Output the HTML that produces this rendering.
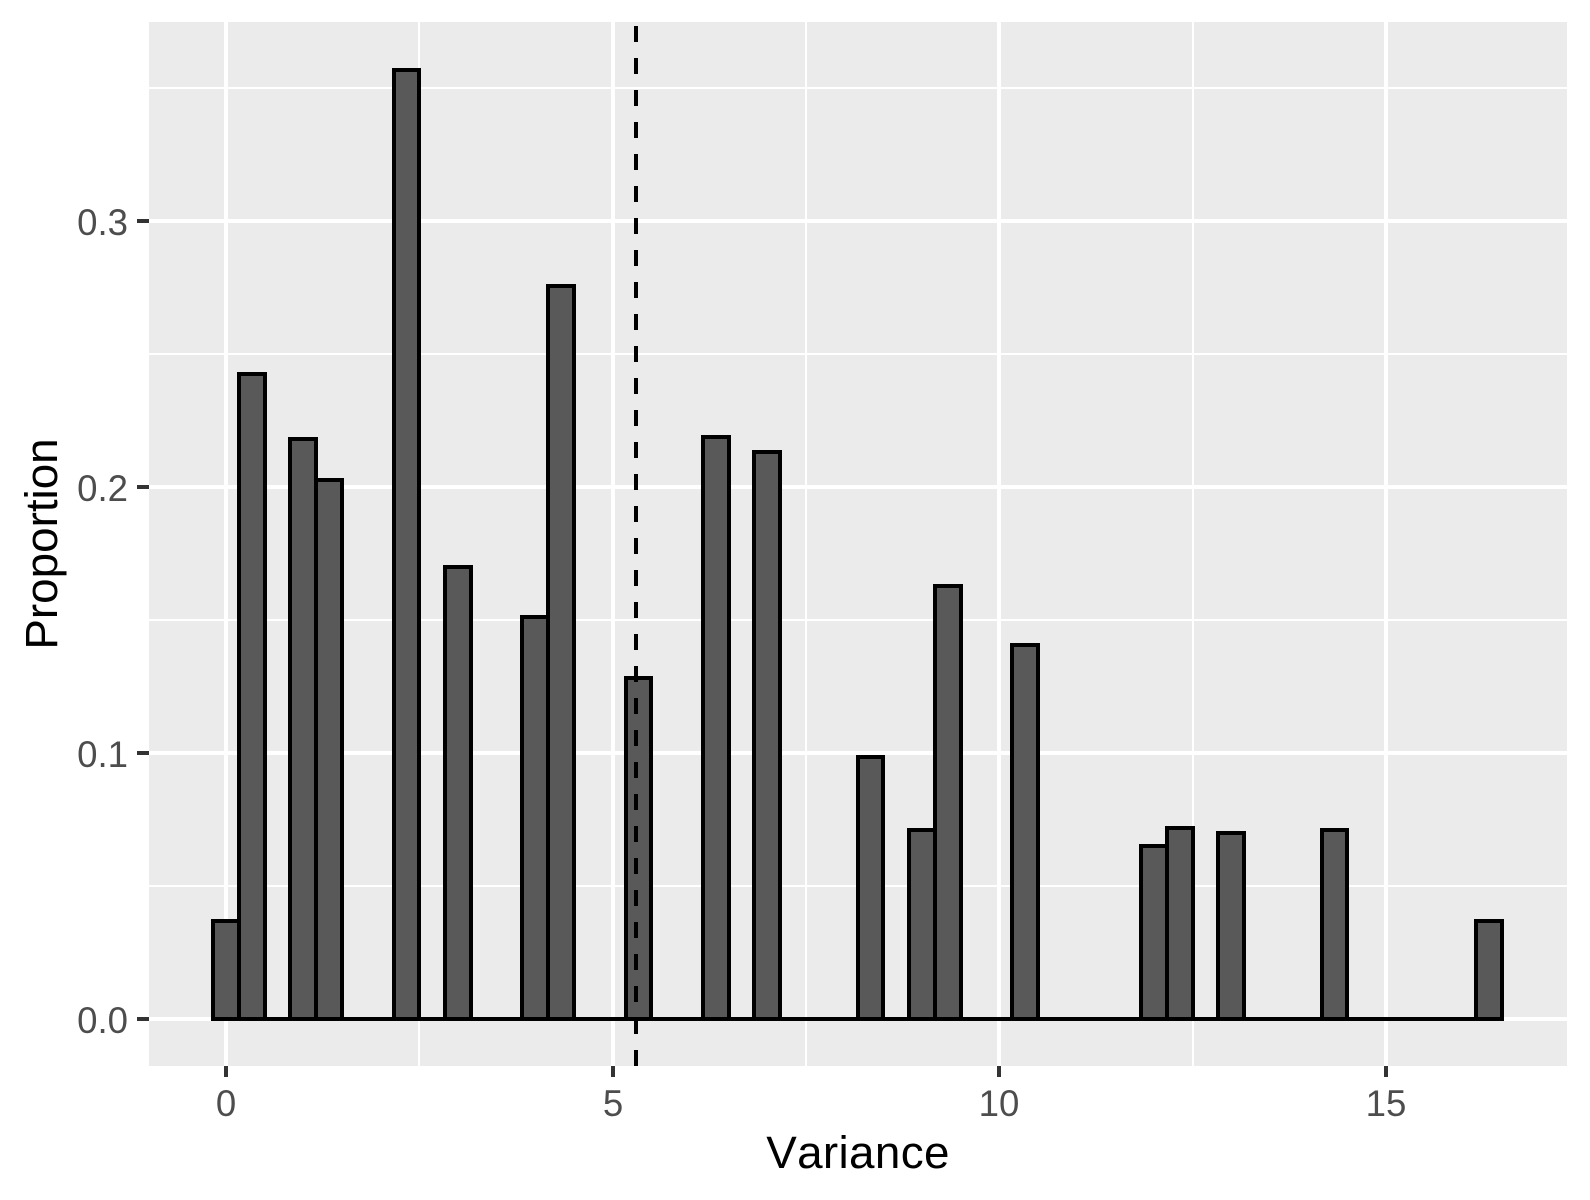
<!DOCTYPE html>
<html lang="en">
<head>
<meta charset="utf-8">
<title>Variance histogram</title>
<style>
html,body{margin:0;padding:0;background:#fff;width:1590px;height:1200px;overflow:hidden}
svg{display:block}
text{font-family:"Liberation Sans",Arial,sans-serif}
</style>
</head>
<body>
<svg id="chart" xmlns="http://www.w3.org/2000/svg" width="1590" height="1200" viewBox="0 0 1590 1200">
  <rect x="0" y="0" width="1590" height="1200" fill="#ffffff"/>
  <rect x="149" y="22" width="1418" height="1044" fill="#ebebeb"/>
  <g id="grid"></g>
  <g id="bars"></g>
  <line id="meanLine" stroke="#000" stroke-width="4" stroke-dasharray="16 16"></line>
  <g id="xAxis"></g>
  <g id="yAxis"></g>
  <text x="858" y="1168" text-anchor="middle" font-size="45.8" fill="#000" style="font-kerning:none;letter-spacing:0.35px">Variance</text>
  <text transform="translate(57 544) rotate(-90)" text-anchor="middle" font-size="45.8" fill="#000">Proportion</text>
</svg>
<script>
// Histogram data: one proportion for each bin, starting from the bin centred at 0
const binWidth = 1 / 3;
const proportions = [
  0.0368, 0.2425, 0, 0.218, 0.2026, 0, 0, 0.3568, 0, 0.170,
  0, 0, 0.1511, 0.2756, 0, 0, 0.1282, 0, 0, 0.2188,
  0, 0.2132, 0, 0, 0, 0.0985, 0, 0.0711, 0.1628, 0,
  0, 0.1406, 0, 0, 0, 0, 0.0650, 0.0718, 0, 0.0699,
  0, 0, 0, 0.0711, 0, 0, 0, 0, 0, 0.0368
];
const meanVariance = 5.3;
const xTicks = [0, 5, 10, 15];
const xTickLabels = ["0", "5", "10", "15"];
const xMinorBreaks = [2.5, 7.5, 12.5];
const yTicks = [0, 0.1, 0.2, 0.3];
const yTickLabels = ["0.0", "0.1", "0.2", "0.3"];
const yMinorBreaks = [0.05, 0.15, 0.25, 0.35];

const SVG_NS = "http://www.w3.org/2000/svg";
const panel = { left: 149, right: 1567, top: 22, bottom: 1066 };
function xScale(v) { return Math.round(226 + v * 1160 / 15); }
function yScale(v) { return Math.round(1019 - v * 798 / 0.3); }

function make(tag, parent, attrs) {
  const el = document.createElementNS(SVG_NS, tag);
  for (const k in attrs) el.setAttribute(k, attrs[k]);
  parent.appendChild(el);
  return el;
}

const grid = document.getElementById("grid");
yMinorBreaks.forEach(function (v) {
  const el = make("line", grid, { x1: panel.left, x2: panel.right, y1: yScale(v), y2: yScale(v), stroke: "#fff", "stroke-width": 2 });
  
  
});
xMinorBreaks.forEach(function (v) {
  const el = make("line", grid, { x1: xScale(v), x2: xScale(v), y1: panel.top, y2: panel.bottom, stroke: "#fff", "stroke-width": 2 });
  
  
});
yTicks.forEach(function (v) {
  const el = make("line", grid, { x1: panel.left, x2: panel.right, y1: yScale(v), y2: yScale(v), stroke: "#fff", "stroke-width": 4 });
  
  
});
xTicks.forEach(function (v) {
  const el = make("line", grid, { x1: xScale(v), x2: xScale(v), y1: panel.top, y2: panel.bottom, stroke: "#fff", "stroke-width": 4 });
  
  
});

const bars = document.getElementById("bars");
proportions.forEach(function (p, i) {
  const centre = i * binWidth;
  const x0 = xScale(centre - binWidth / 2);
  const x1 = xScale(centre + binWidth / 2);
  const y0 = yScale(0);
  const y1 = yScale(p);
  const el = make("path", bars, {
    d: "M" + x0 + " " + y0 + "L" + x0 + " " + y1 + "L" + x1 + " " + y1 + "L" + x1 + " " + y0 + "Z",
    fill: "#595959", stroke: "#000", "stroke-width": 4, "stroke-linejoin": "miter"
  });
  
  
});

const meanLine = document.getElementById("meanLine");
meanLine.setAttribute("x1", xScale(meanVariance));
meanLine.setAttribute("x2", xScale(meanVariance));
meanLine.setAttribute("y1", panel.bottom);
meanLine.setAttribute("y2", panel.top);

const xAxis = document.getElementById("xAxis");
xTicks.forEach(function (v, i) {
  const tick = make("line", xAxis, { x1: xScale(v), x2: xScale(v), y1: panel.bottom, y2: panel.bottom + 11, stroke: "#333", "stroke-width": 4 });
  
  
  const label = make("text", xAxis, { x: xScale(v), y: 1116, "text-anchor": "middle", "font-size": 36.6, fill: "#4d4d4d" });
  label.textContent = xTickLabels[i];
  
  
});

const yAxis = document.getElementById("yAxis");
yTicks.forEach(function (v, i) {
  const tick = make("line", yAxis, { x1: panel.left - 12, x2: panel.left, y1: yScale(v), y2: yScale(v), stroke: "#333", "stroke-width": 4 });
  
  
  const label = make("text", yAxis, { x: 128, y: yScale(v) + 14, "text-anchor": "end", "font-size": 36.6, fill: "#4d4d4d" });
  label.textContent = yTickLabels[i];
  
  
});
</script>
</body>
</html>
